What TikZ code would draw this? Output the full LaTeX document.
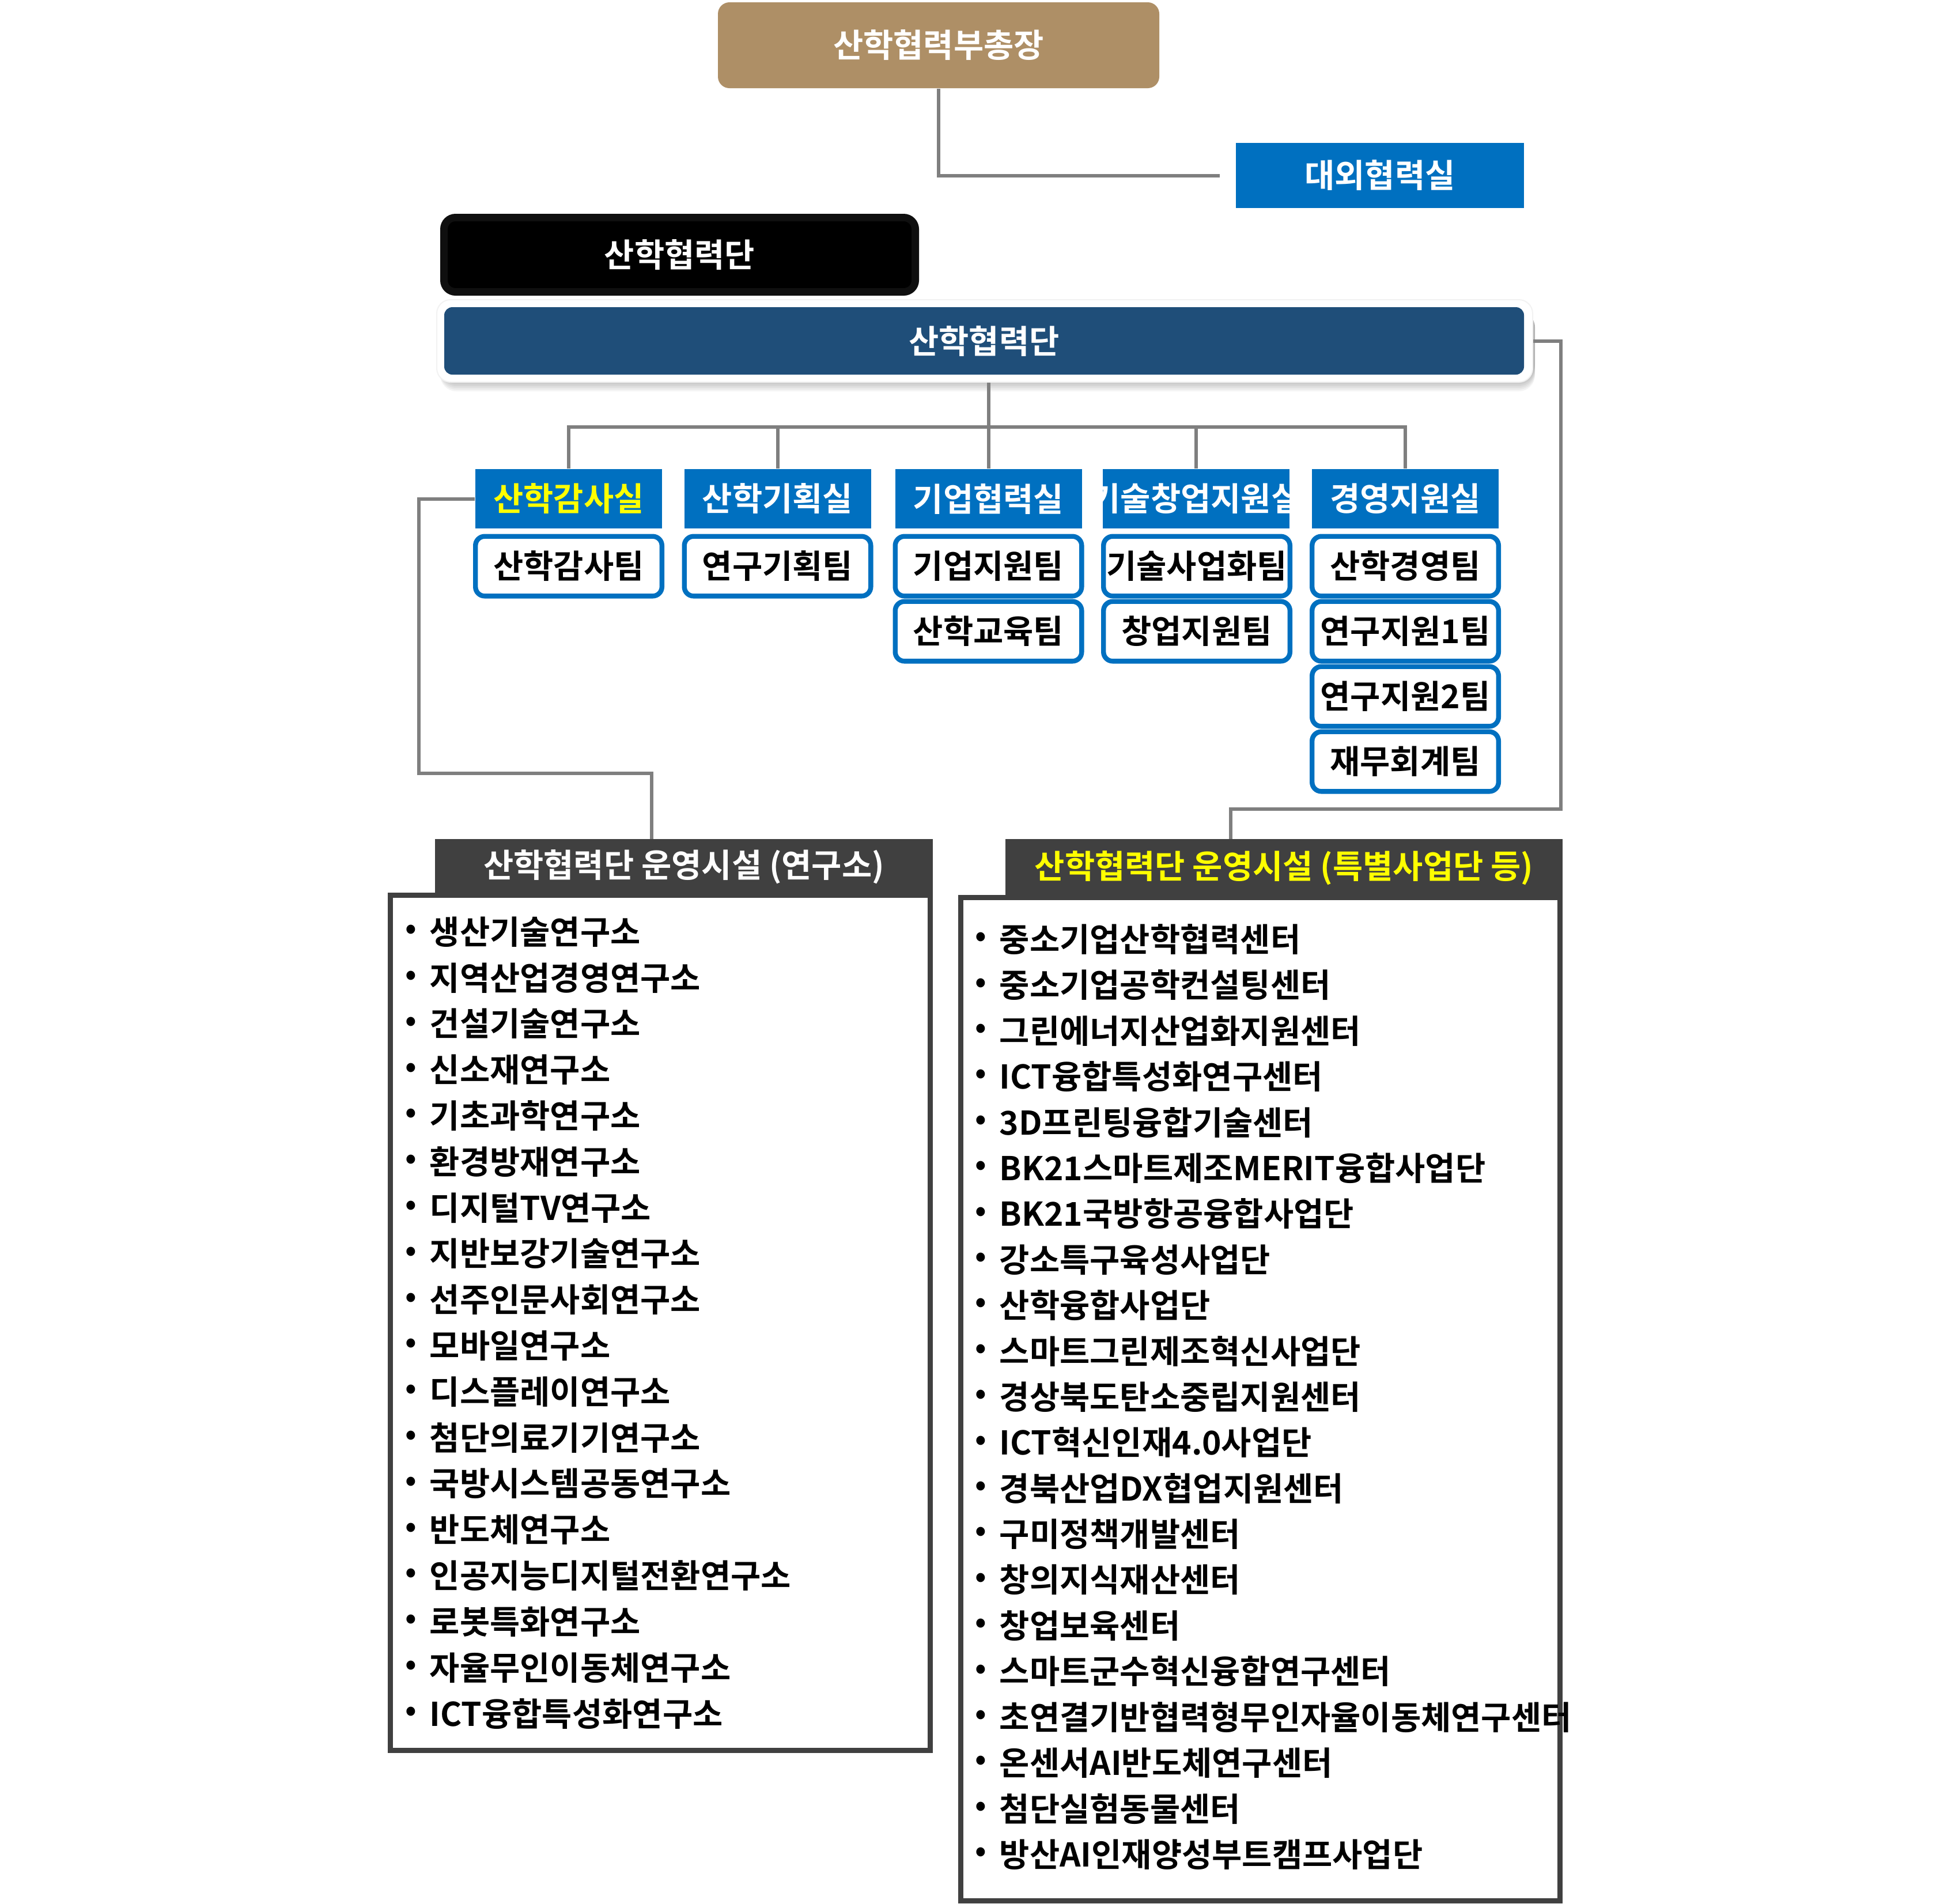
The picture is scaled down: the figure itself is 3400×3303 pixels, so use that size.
\documentclass[tikz,border=0pt]{standalone}
\usepackage{fontspec}
\setmainfont{Noto Sans CJK KR}[BoldFont={Noto Sans CJK KR Bold}]
\definecolor{gold}{HTML}{AE8F66}
\definecolor{dblue}{HTML}{0070C0}
\definecolor{navy}{HTML}{1F4E79}
\definecolor{lineg}{HTML}{7F7F7F}
\definecolor{hdr}{HTML}{404040}
\definecolor{ylw}{HTML}{FFFF00}
\definecolor{nearblack}{HTML}{0F0F0F}
\begin{document}
\begin{tikzpicture}[x=0.25pt,y=-0.25pt,
  txt/.style={font=\bfseries\fontsize{14.2}{17}\selectfont},
  conn/.style={draw=lineg,line width=1.5pt},
  dept/.style={txt,fill=dblue,text=white,minimum width=81pt,minimum height=25.75pt,inner sep=0pt},
  team/.style={txt,draw=dblue,line width=2.1pt,fill=white,rounded corners=4pt,minimum width=80.9pt,minimum height=25.9pt,inner sep=0pt},
  hdrbox/.style={txt,fill=hdr,inner sep=0pt},
  frame/.style={draw=hdr,line width=2.25pt},
  item/.style={txt,anchor=west,inner sep=0pt},
  bul/.style={font=\bfseries\fontsize{13}{15}\selectfont,inner sep=0pt}]
\useasboundingbox (0,0) rectangle (3400,3303);

% top
\node[txt,fill=gold,text=white,rounded corners=5pt,minimum width=191.5pt,minimum height=37.25pt,inner sep=0pt] (vp) at (1629,78.5) {산학협력부총장};
\node[txt,fill=dblue,text=white,minimum width=125pt,minimum height=28.25pt,inner sep=0pt] (ext) at (2395,304.5) {대외협력실};
\coordinate (extend) at (2117,305);
\draw[conn] (vp.south) |- (extend);

% black box
\node[txt,fill=black,draw=nearblack,line width=3.25pt,rounded corners=5pt,text=white,minimum width=204.5pt,minimum height=32.25pt,inner sep=0pt] (blk) at (1179.5,442) {산학협력단};

% banner with shadow
\foreach \s in {3,6,9,12,15,18,21,24}
  \fill[black,opacity=0.045,rounded corners=7pt] (764,540) rectangle (2664,{655+\s});
\node[fill=white,draw=black!5,line width=0.5pt,rounded corners=6pt,minimum width=475.5pt,minimum height=35.75pt,inner sep=0pt] (bannerbg) at (1709,591.5) {};
\node[txt,fill=navy,text=white,rounded corners=3.5pt,minimum width=468.5pt,minimum height=29.25pt,inner sep=0pt] (banner) at (1708,591.5) {산학협력단};

% departments
\node[dept,text=ylw] (d1) at (987,865.5) {산학감사실};
\node[dept] (d2) at (1349.5,865.5) {산학기획실};
\node[dept] (d3) at (1715.5,865.5) {기업협력실};
\node[dept] (d4) at (2075.5,865.5) {};
\begin{scope}
  \clip (1914,814) rectangle (2238,917);
  \node[dept,fill=none] (d4t) at (2075.5,865.5) {기술창업지원실};
\end{scope}
\node[dept] (d5) at (2439,865.5) {경영지원실};

\coordinate (bus) at (0,741);
\draw[conn] (bannerbg.south -| d3.north) -- (d3.north);
\draw[conn] (d1.north) -- (d1.north |- bus) -- (d5.north |- bus) -- (d5.north);
\draw[conn] (d2.north) -- (d2.north |- bus);
\draw[conn] (d4.north) -- (d4.north |- bus);

% teams
\node[team] (t11) at (987,982.5) {산학감사팀};
\node[team] (t21) at (1349.5,982.5) {연구기획팀};
\node[team] (t31) at (1715.5,982.5) {기업지원팀};
\node[team] (t32) at (1715.5,1095.5) {산학교육팀};
\node[team] (t41) at (2077,982.5) {기술사업화팀};
\node[team] (t42) at (2077,1095.5) {창업지원팀};
\node[team] (t51) at (2439,982.5) {산학경영팀};
\node[team] (t52) at (2439,1095.5) {연구지원1팀};
\node[team] (t53) at (2439,1208.5) {연구지원2팀};
\node[team] (t54) at (2439,1321.5) {재무회계팀};

% left facility box
\draw[frame] (677.5,1553.5) rectangle (1614.5,3037.5);
\node[hdrbox,text=white,minimum width=216pt,minimum height=24pt] (Lh) at (1187,1504) {산학협력단 운영시설 (연구소)};
% right facility box
\draw[frame] (1667.5,1557.5) rectangle (2707.5,3298);
\node[hdrbox,text=ylw,minimum width=241.75pt,minimum height=25pt] (Rh) at (2228.5,1506) {산학협력단 운영시설 (특별사업단 등)};

% connectors to facility boxes
\coordinate (lk) at (727,1342);
\coordinate (ldrop) at (1131,1456);
\draw[conn] (d1.west) -| (lk) -| (ldrop);
\coordinate (rk) at (2709,1404);
\coordinate (rdrop) at (2136,1456);
\draw[conn] (bannerbg.east) -| (rk) -| (rdrop);

% left items
\foreach \t [count=\i from 0] in {생산기술연구소,지역산업경영연구소,건설기술연구소,신소재연구소,기초과학연구소,환경방재연구소,디지털TV연구소,지반보강기술연구소,선주인문사회연구소,모바일연구소,디스플레이연구소,첨단의료기기연구소,국방시스템공동연구소,반도체연구소,인공지능디지털전환연구소,로봇특화연구소,자율무인이동체연구소,ICT융합특성화연구소}{
  \node[bul] (Lb\i) at (713,{1617+79.8*\i}) {•};
  \node[item] (L\i) at (745,{1617+79.8*\i}) {\t};
}
% right items
\foreach \t [count=\i from 0] in {중소기업산학협력센터,중소기업공학컨설팅센터,그린에너지산업화지원센터,ICT융합특성화연구센터,3D프린팅융합기술센터,BK21스마트제조MERIT융합사업단,BK21국방항공융합사업단,강소특구육성사업단,산학융합사업단,스마트그린제조혁신사업단,경상북도탄소중립지원센터,ICT혁신인재4.0사업단,경북산업DX협업지원센터,구미정책개발센터,창의지식재산센터,창업보육센터,스마트군수혁신융합연구센터,초연결기반협력형무인자율이동체연구센터,온센서AI반도체연구센터,첨단실험동물센터,방산AI인재양성부트캠프사업단}{
  \node[bul] (Rb\i) at (1702,{1630+79.4*\i}) {•};
  \node[item] (R\i) at (1734,{1630+79.4*\i}) {\t};
}
\end{tikzpicture}
\end{document}
